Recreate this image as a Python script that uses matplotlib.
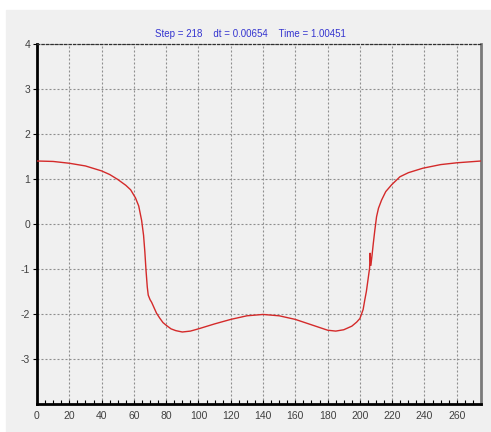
import matplotlib
matplotlib.use('Agg')
import matplotlib.pyplot as plt
from matplotlib.patches import Rectangle
from matplotlib.ticker import MultipleLocator

# readings (x, value)
x_vals = [0, 10, 20, 30, 40, 45, 50, 55, 58, 61, 63, 64.8, 66, 66.8, 67.5,
          68.3, 68.9, 70, 71, 72.5, 74, 76, 78, 80, 83, 86, 90, 95, 100,
          110, 120, 130, 140, 150, 160, 170, 175, 180, 185, 190, 195, 198,
          200, 202, 203, 204, 205, 206, 206.3, 206.8, 207.5, 208.3, 209.2,
          210.3, 211.5, 213.4, 216, 219.6, 224.8, 230, 239, 250, 260, 275]
y_vals = [1.40, 1.39, 1.35, 1.29, 1.18, 1.10, 0.99, 0.86, 0.76, 0.58, 0.40,
          0.08, -0.25, -0.62, -1.02, -1.40, -1.58, -1.68, -1.74, -1.86,
          -1.98, -2.09, -2.19, -2.25, -2.33, -2.37, -2.40, -2.38, -2.33,
          -2.22, -2.12, -2.04, -2.01, -2.04, -2.12, -2.24, -2.30, -2.36,
          -2.38, -2.35, -2.27, -2.18, -2.10, -1.90, -1.69, -1.50, -1.24,
          -0.98, -0.65, -0.92, -0.70, -0.43, -0.15, 0.16, 0.35, 0.53, 0.72,
          0.87, 1.05, 1.14, 1.24, 1.32, 1.36, 1.40]
x_ticks = list(range(0, 261, 20))
y_ticks = [-3, -2, -1, 0, 1, 2, 3, 4]
title_text = 'Step = 218    dt = 0.00654    Time = 1.00451'

plt.rcParams['font.family'] = ['Liberation Sans', 'DejaVu Sans']
plt.rcParams['axes.unicode_minus'] = False

fig = plt.figure(figsize=(4.91, 4.32), dpi=100, facecolor='white')
# grey panel behind the chart, white strip top and left
fig.patches.append(Rectangle((6 / 491, 0), 1, 1 - 10 / 432,
                             transform=fig.transFigure, color='#f0f0f0',
                             zorder=-10))

ax = fig.add_axes([37 / 491, 1 - 404 / 432, 444 / 491, 360 / 432])
ax.set_facecolor('#f0f0f0')

ax.plot(x_vals, y_vals, color='#d42a2a', lw=1.0, zorder=3)

ax.set_xlim(0, 275)
ax.set_ylim(-4, 4)
ax.set_xticks(x_ticks)
ax.set_yticks(y_ticks)
ax.xaxis.set_minor_locator(MultipleLocator(5))

ax.grid(True, which='major', color='#8e8e8e', linestyle=(0, (1.8, 1.8)),
        lw=0.8)
ax.tick_params(axis='x', which='both', direction='in', length=3,
               width=0.8, labelsize=7.5, labelcolor='#404040', pad=5)
ax.tick_params(axis='y', which='major', direction='out', length=3,
               width=0.8, labelsize=7.5, labelcolor='#404040', pad=2)

ax.spines['left'].set_linewidth(2)
ax.spines['bottom'].set_linewidth(2)
ax.spines['right'].set_linewidth(2)
ax.spines['right'].set_color('#7a7a7a')
ax.spines['top'].set_linewidth(0.9)
ax.spines['top'].set_linestyle((0, (1.8, 1.8)))
ax.spines['top'].set_color('#303030')

fig.text(250 / 491, 1 - 34 / 432, title_text, color='#3535d0',
         fontsize=7, ha='center', va='center')

fig.savefig('out.png', dpi=100, facecolor=fig.get_facecolor())
